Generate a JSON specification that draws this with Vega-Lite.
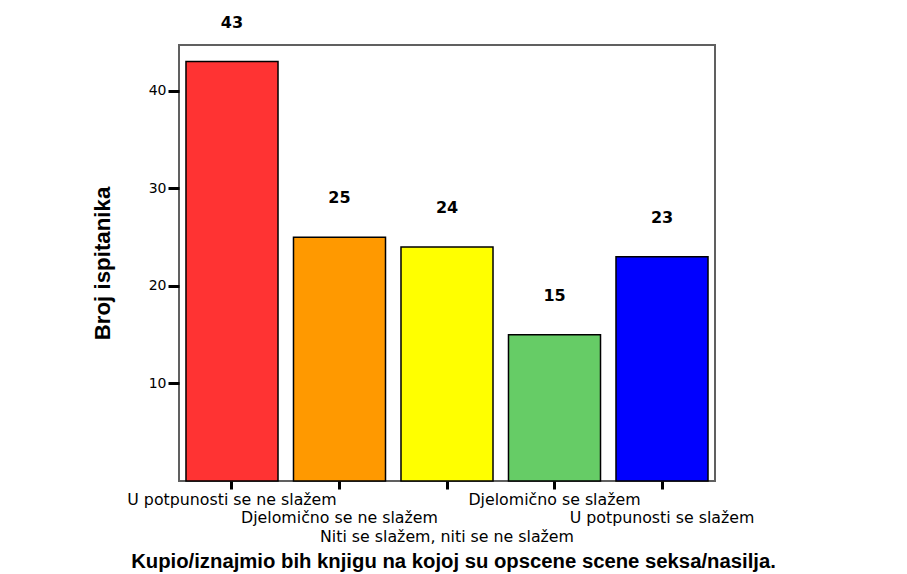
{
  "$schema": "https://vega.github.io/schema/vega-lite/v6.json",
  "width": 536,
  "height": 436,
  "autosize": {"type": "none"},
  "padding": {"left": 179, "top": 45, "right": 192, "bottom": 93},
  "background": "white",
  "config": {
    "view": {"stroke": "#606060", "strokeWidth": 2},
    "font": "Liberation Sans"
  },
  "data": {
    "values": [
      {"odgovor": "U potpunosti se ne slažem", "broj": 43},
      {"odgovor": "Djelomično se ne slažem", "broj": 25},
      {"odgovor": "Niti se slažem, niti se ne slažem", "broj": 24},
      {"odgovor": "Djelomično se slažem", "broj": 15},
      {"odgovor": "U potpunosti se slažem", "broj": 23}
    ]
  },
  "encoding": {
    "x": {
      "field": "odgovor",
      "type": "nominal",
      "sort": null,
      "scale": {"paddingInner": 0.144, "paddingOuter": 0.065},
      "axis": {
        "title": "Kupio/iznajmio bih knjigu na kojoj su opscene scene seksa/nasilja.",
        "titleFont": "Liberation Sans",
        "titleFontSize": 20.3,
        "titleFontWeight": "bold",
        "titleColor": "black",
        "titleBaseline": "alphabetic",
        "titleY": 86,
        "titleX": 274,
        "labelAngle": 0,
        "labelFont": "DejaVu Sans",
        "labelFontSize": 15.8,
        "labelColor": "black",
        "labelBaseline": "top",
        "labelPadding": {
          "condition": [
            {"test": "datum.value == 'Djelomično se ne slažem' || datum.value == 'U potpunosti se slažem'", "value": 21},
            {"test": "datum.value == 'Niti se slažem, niti se ne slažem'", "value": 40}
          ],
          "value": 3
        },
        "labelLimit": 500,
        "labelOverlap": false,
        "labelBound": false,
        "domain": false,
        "ticks": true,
        "tickSize": 8,
        "tickWidth": 3,
        "tickColor": "black"
      }
    },
    "y": {
      "field": "broj",
      "type": "quantitative",
      "scale": {"domain": [0, 44.7], "nice": false},
      "axis": {
        "title": "Broj ispitanika",
        "titleFont": "Liberation Sans",
        "titleFontSize": 22.3,
        "titleFontWeight": "bold",
        "titleColor": "black",
        "titlePadding": 34,
        "values": [10, 20, 30, 40],
        "labelFont": "DejaVu Sans",
        "labelFontSize": 14,
        "labelColor": "black",
        "labelPadding": 2,
        "domain": false,
        "grid": false,
        "tickSize": 11,
        "tickWidth": 3,
        "tickColor": "black"
      }
    }
  },
  "layer": [
    {
      "mark": {"type": "bar", "stroke": "black", "strokeWidth": 1.5},
      "encoding": {
        "color": {
          "field": "odgovor",
          "type": "nominal",
          "sort": null,
          "scale": {
            "domain": ["U potpunosti se ne slažem", "Djelomično se ne slažem", "Niti se slažem, niti se ne slažem", "Djelomično se slažem", "U potpunosti se slažem"],
            "range": ["#FF3333", "#FF9900", "#FFFF00", "#66CC66", "#0000FF"]
          },
          "legend": null
        }
      }
    },
    {
      "mark": {"type": "text", "dy": -39, "font": "DejaVu Sans", "fontSize": 16, "fontWeight": "bold", "color": "black", "baseline": "middle"},
      "encoding": {"text": {"field": "broj", "type": "quantitative"}}
    }
  ]
}
